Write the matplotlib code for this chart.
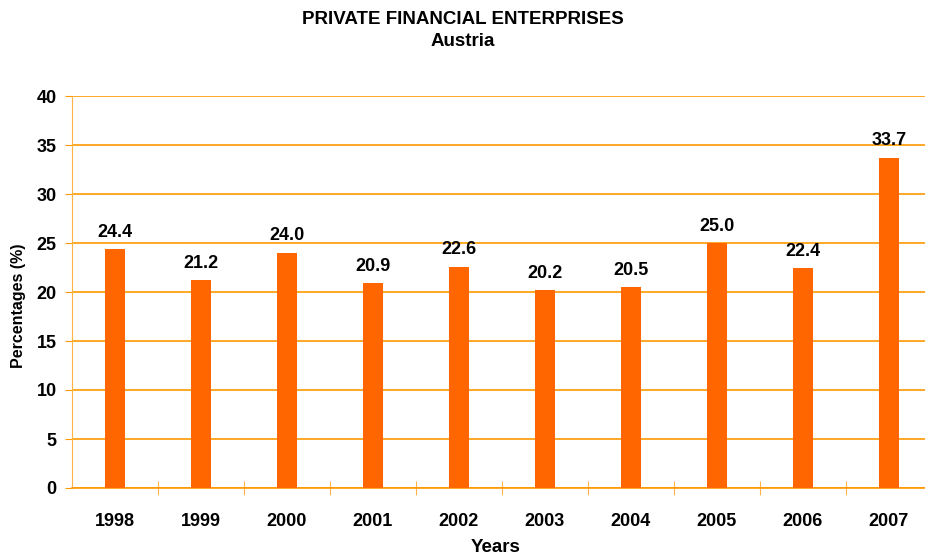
import matplotlib.pyplot as plt
import numpy as np

plt.rcParams["font.family"] = ["Liberation Sans", "DejaVu Sans"]
plt.rcParams["font.weight"] = "bold"

years = ["1998", "1999", "2000", "2001", "2002", "2003", "2004", "2005", "2006", "2007"]
shares = [24.4, 21.2, 24.0, 20.9, 22.6, 20.2, 20.5, 25.0, 22.4, 33.7]

bar_color = "#FF6600"
grid_color = "#FF9900"
spine_color = "#FFB347"

fig = plt.figure(figsize=(9.25, 5.58), dpi=100)
ax = fig.add_axes([72 / 925, 1 - 488 / 558, 1 - 72 / 925, (488 - 96) / 558])

x = np.arange(len(years))
ax.bar(x, shares, width=0.235, color=bar_color, zorder=3)

for xi, v in zip(x, shares):
    ax.annotate(f"{v:.1f}", (xi, v), xytext=(0, 6), textcoords="offset points",
                ha="center", va="bottom", fontsize=13, fontweight="bold")

ax.set_ylim(0, 40)
ax.set_xlim(-0.5, 9.42)
ax.set_yticks(range(0, 41, 5))
ax.yaxis.grid(True, color=grid_color, linewidth=1.2, zorder=0)
ax.tick_params(axis="y", length=5, color=grid_color, labelsize=13, pad=6)

# category boundaries as ticks, labels centred between them
ax.set_xticks(np.arange(0.5, len(years) - 1, 1.0))
ax.set_xticklabels([])
ax.set_xticks(x, minor=True)
ax.set_xticklabels(years, minor=True, fontsize=13, fontweight="bold")
ax.tick_params(axis="x", which="major", direction="inout", length=10, color=spine_color)
ax.tick_params(axis="x", which="minor", length=0, pad=18)

for side in ["top", "right"]:
    ax.spines[side].set_visible(False)
ax.spines["left"].set_color(spine_color)
ax.spines["bottom"].set_color(grid_color)
ax.spines["bottom"].set_linewidth(1.2)

for lbl in ax.get_yticklabels():
    lbl.set_fontweight("bold")

ax.set_xlabel("Years", fontsize=13.5, fontweight="bold")
ax.xaxis.set_label_coords(0.5 - 3 / 853, -(547 - 488) / 392, transform=ax.transAxes)
ax.xaxis.label.set_va("center")
ax.set_ylabel("Percentages (%)", fontsize=11.5, fontweight="bold")
ax.yaxis.set_label_coords(-(72 - 18) / 853, (488 - 306) / 392)
ax.yaxis.label.set_va("center")

fig.text(0.5, 1 - 19 / 558, "PRIVATE FINANCIAL ENTERPRISES", ha="center", va="center",
         fontsize=13.5, fontweight="bold")
fig.text(0.5, 1 - 42 / 558, "Austria", ha="center", va="center",
         fontsize=13.5, fontweight="bold")

fig.savefig("out.png", dpi=100, facecolor="white")
